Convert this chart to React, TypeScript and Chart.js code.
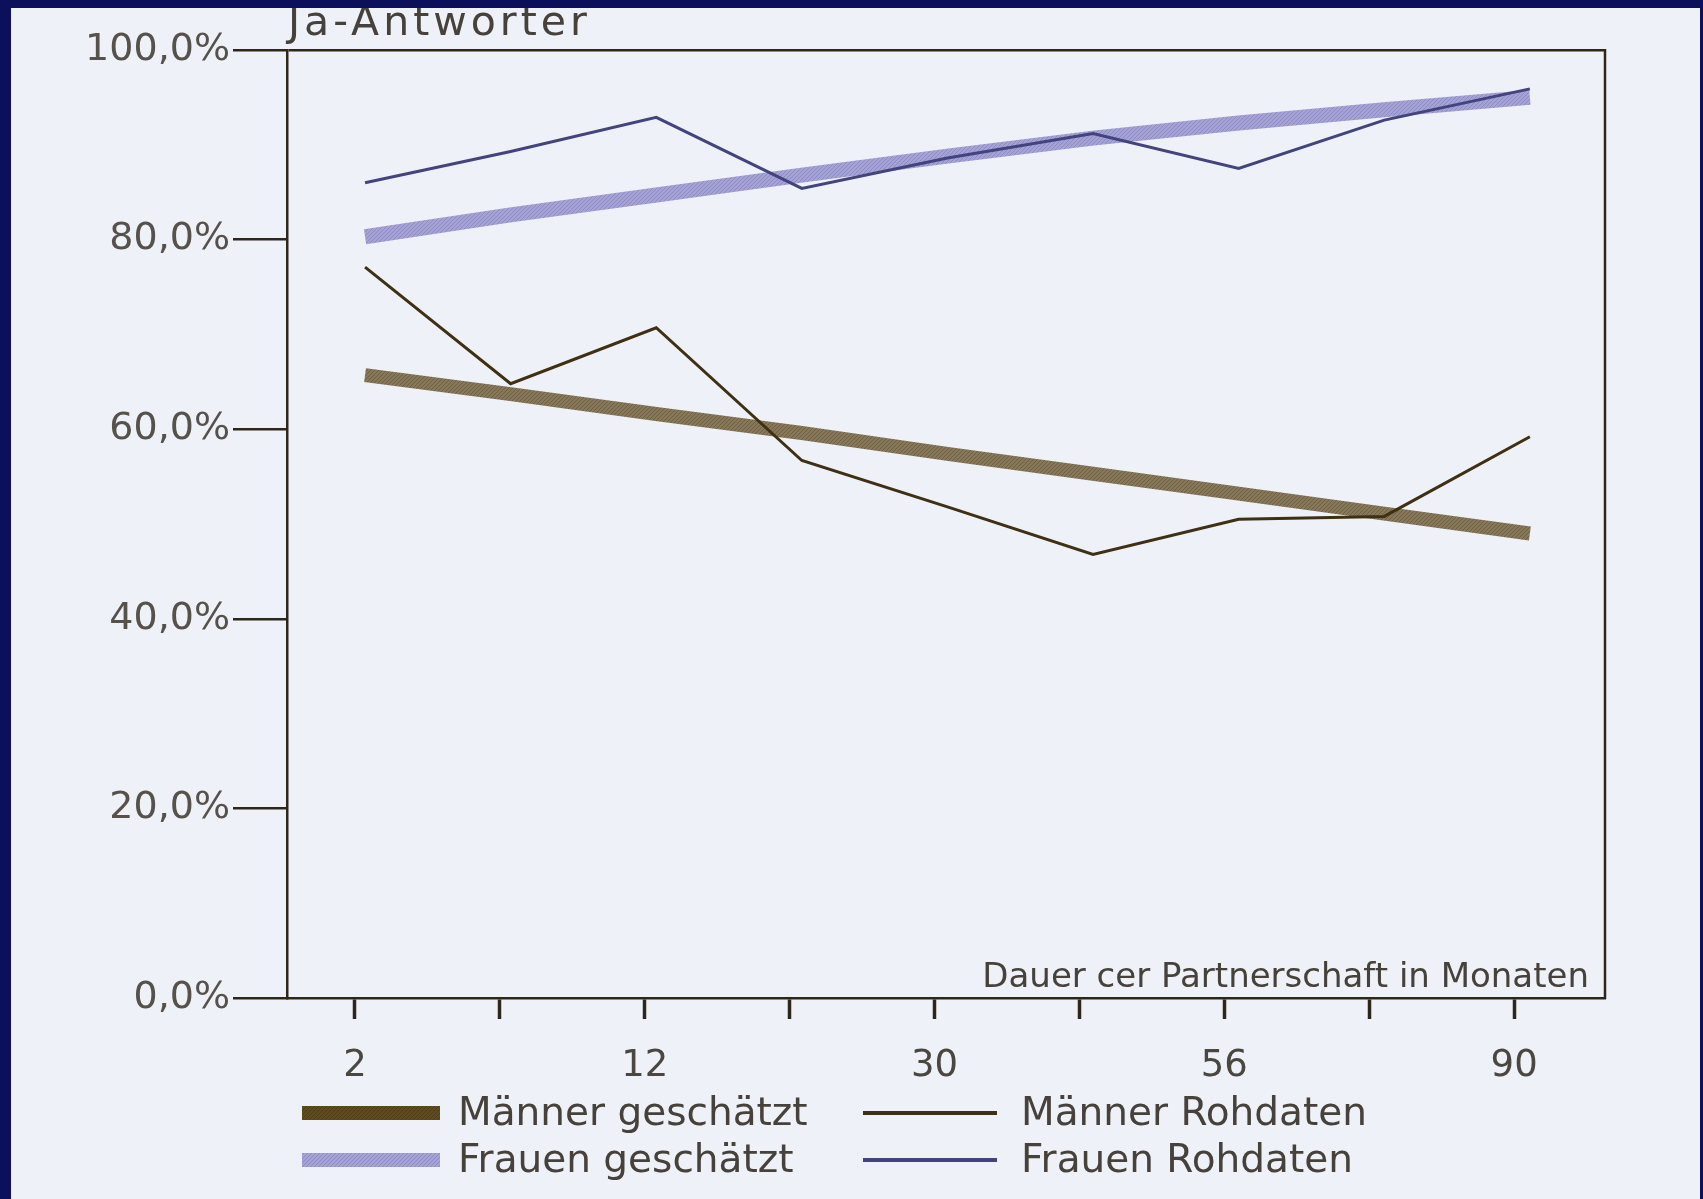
import { useEffect, useRef } from 'react';
import { Chart, registerables } from 'chart.js';

Chart.register(...registerables);

// ---- data ----
const monthLabels = ['2', '', '12', '', '30', '', '56', '', '90'];
const yTickLabels = ['0,0%', '20,0%', '40,0%', '60,0%', '80,0%', '100,0%'];
const seriesNames = ['Männer geschätzt', 'Frauen geschätzt', 'Männer Rohdaten', 'Frauen Rohdaten'];
const maennerGeschaetzt = [65.7, 63.7, 61.6, 59.6, 57.4, 55.3, 53.2, 51.1, 49.0];
const frauenGeschaetzt = [80.3, 82.6, 84.7, 86.8, 88.8, 90.7, 92.3, 93.7, 95.0];
const maennerRohdaten = [77.1, 64.8, 70.7, 56.7, 51.8, 46.8, 50.5, 50.8, 59.2];
const frauenRohdaten = [86.0, 89.3, 92.9, 85.4, 88.6, 91.2, 87.5, 92.6, 95.9];
const chartTitle = 'Ja-Antworter';
const xAxisTitle = 'Dauer cer Partnerschaft in Monaten';

const AXIS = '#2e2618';
const TEXT = '#46413a';
const NAVY = '#0c0f5a';
const PAPER = '#eff1f8';

function makePattern(base: string, dot: string) {
  const c = document.createElement('canvas');
  c.width = 4;
  c.height = 4;
  const g = c.getContext('2d')!;
  g.fillStyle = base;
  g.fillRect(0, 0, 4, 4);
  g.fillStyle = dot;
  g.fillRect(0, 0, 1, 1);
  g.fillRect(2, 2, 1, 1);
  g.fillRect(1, 3, 1, 1);
  g.fillRect(3, 1, 1, 1);
  return g.createPattern(c, 'repeat');
}

const toPoints = (arr: number[]) => arr.map((v, i) => ({ x: i, y: v }));

const decorPlugin = {
  id: 'decor',
  beforeDraw(chart: any) {
    const { ctx, width, height } = chart;
    ctx.save();
    ctx.fillStyle = PAPER;
    ctx.fillRect(0, 0, width, height);
    ctx.restore();
  },
  afterDraw(chart: any) {
    const { ctx, chartArea: a, width, height } = chart;
    ctx.save();
    // right frame
    ctx.strokeStyle = AXIS;
    ctx.lineWidth = 2.5;
    ctx.beginPath();
    ctx.moveTo(a.right, a.top - 1);
    ctx.lineTo(a.right, a.bottom + 1);
    ctx.stroke();

    // x axis title inside plot
    ctx.fillStyle = TEXT;
    ctx.font = '34px "DejaVu Sans"';
    ctx.textAlign = 'right';
    ctx.textBaseline = 'alphabetic';
    ctx.fillText(xAxisTitle, a.right - 16, a.bottom - 11);

    // chart title (y axis caption)
    ctx.font = '41px "DejaVu Sans"';
    ctx.textAlign = 'left';
    (ctx as any).letterSpacing = '4px';
    ctx.fillText(chartTitle, a.left + 1, 35);
    (ctx as any).letterSpacing = '0px';

    // legend (2 x 2 grid)
    const colX = [302, 863];
    const colLen = [138, 134];
    const colGap = [18, 24];
    const rowY = [1113, 1160];
    chart.data.datasets.forEach((ds: any, i: number) => {
      const c = Math.floor(i / 2);
      const r = i % 2;
      const x = colX[c];
      const y = rowY[r];
      ctx.strokeStyle = ds.legendStroke || ds.borderColor;
      ctx.lineWidth = c === 0 ? 14 : 4;
      ctx.lineCap = 'butt';
      ctx.beginPath();
      ctx.moveTo(x, y);
      ctx.lineTo(x + colLen[c], y);
      ctx.stroke();
      ctx.fillStyle = TEXT;
      ctx.font = '39px "DejaVu Sans"';
      ctx.textAlign = 'left';
      ctx.textBaseline = 'middle';
      ctx.fillText(ds.label, x + colLen[c] + colGap[c], y + 2);
    });

    // navy scan border
    ctx.fillStyle = NAVY;
    ctx.fillRect(0, 0, width, 8);
    ctx.fillRect(0, 0, 11, height);
    ctx.fillRect(width - 3, 0, 3, height);
    ctx.restore();
  },
};

export default function App() {
  const ref = useRef<HTMLCanvasElement | null>(null);

  useEffect(() => {
    if (!ref.current) return;
    const menPattern = makePattern('#87785a', '#6e5f42');
    const menLegend = makePattern('#5e4c1e', '#4d3d14');
    const womenPattern = makePattern('#a5a2d6', '#8e8ac6');

    const chart = new Chart(ref.current, {
      type: 'line',
      data: {
        datasets: [
          {
            label: seriesNames[0],
            data: toPoints(maennerGeschaetzt),
            borderColor: menPattern as any,
            legendStroke: menLegend,
            borderWidth: 14,
            xAxisID: 'xd',
            order: 1,
          } as any,
          {
            label: seriesNames[1],
            data: toPoints(frauenGeschaetzt),
            borderColor: womenPattern as any,
            borderWidth: 15,
            xAxisID: 'xd',
            order: 1,
          },
          {
            label: seriesNames[2],
            data: toPoints(maennerRohdaten),
            borderColor: '#3f3014',
            borderWidth: 3,
            xAxisID: 'xd',
            order: 0,
          },
          {
            label: seriesNames[3],
            data: toPoints(frauenRohdaten),
            borderColor: '#43437e',
            borderWidth: 3,
            xAxisID: 'xd',
            order: 0,
          },
        ],
      },
      options: {
        animation: false,
        responsive: false,
        maintainAspectRatio: false,
        layout: { padding: { left: 0, top: 50, right: 98, bottom: 0 } },
        elements: { point: { radius: 0 }, line: { tension: 0, borderCapStyle: 'butt', borderJoinStyle: 'miter' } },
        plugins: {
          legend: { display: false },
          title: { display: false },
          tooltip: { enabled: false },
        },
        scales: {
          x: {
            type: 'linear',
            position: 'bottom',
            min: -0.469,
            max: 8.627,
            afterFit: (s: any) => {
              s.height = 201;
            },
            ticks: {
              stepSize: 1,
              includeBounds: false,
              autoSkip: false,
              maxRotation: 0,
              padding: 25,
              color: '#4a4640',
              font: { family: 'DejaVu Sans', size: 37 },
              callback: (v: any) => monthLabels[v as number] ?? '',
            },
            grid: {
              drawOnChartArea: false,
              drawTicks: true,
              tickLength: 21,
              tickWidth: 3.5,
              tickColor: AXIS,
            },
            border: { display: true, color: AXIS, width: 2.5 },
          },
          xd: {
            type: 'linear',
            position: 'bottom',
            display: false,
            min: -0.536,
            max: 8.516,
          },
          y: {
            type: 'linear',
            min: 0,
            max: 100,
            afterFit: (s: any) => {
              s.width = 287;
            },
            ticks: {
              stepSize: 20,
              padding: 3,
              color: '#56514b',
              font: { family: 'DejaVu Sans', size: 38 },
              callback: (_v: any, i: number) => yTickLabels[i],
            },
            grid: {
              drawOnChartArea: true,
              color: (c: any) => (c.tick && c.tick.value === 100 ? AXIS : 'rgba(0,0,0,0)'),
              lineWidth: 2.5,
              drawTicks: true,
              tickLength: 54,
              tickWidth: 2.5,
              tickColor: AXIS,
            },
            border: { display: true, color: AXIS, width: 2.5 },
          },
        },
      },
      plugins: [decorPlugin],
    });
    return () => chart.destroy();
  }, []);

  return (
    <div style={{ position: 'fixed', left: 0, top: 0, width: 1703, height: 1199 }}>
      <canvas ref={ref} width={1703} height={1199} style={{ width: 1703, height: 1199, display: 'block' }} />
    </div>
  );
}
